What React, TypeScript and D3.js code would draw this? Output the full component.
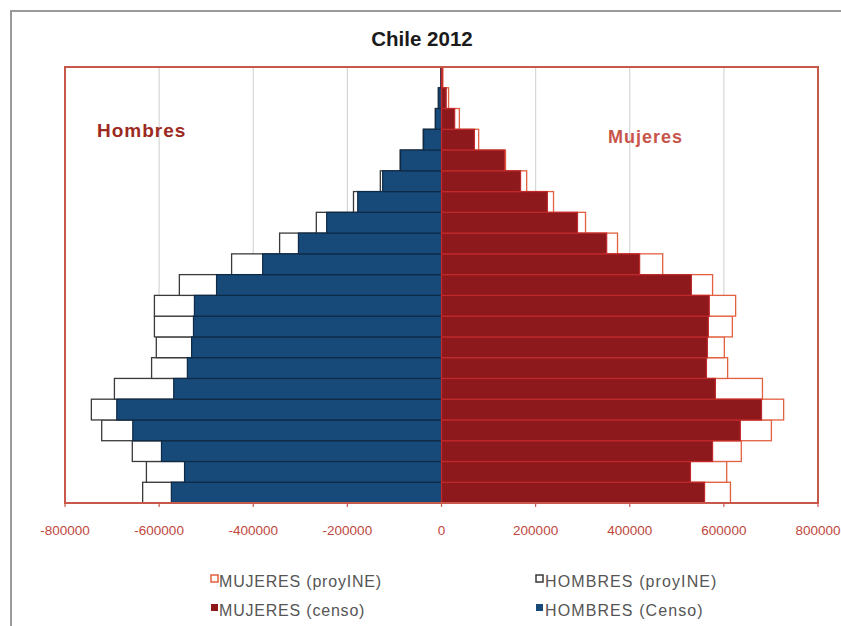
import React from "react";
import * as d3 from "d3";

const ageGroups = ["0-4","5-9","10-14","15-19","20-24","25-29","30-34","35-39","40-44","45-49","50-54","55-59","60-64","65-69","70-74","75-79","80-84","85-89","90-94","95-99","100+"];
const hombresCenso = [574000,546000,595000,656000,690000,569000,540000,531000,527000,525000,478000,380000,304000,244000,178000,125000,87000,38000,13000,6000,1000];
const hombresProy = [635000,627000,657000,722000,744000,695000,616000,606000,610000,610000,557000,446000,344000,266000,187000,130000,88000,39000,13000,7000,1000];
const mujeresCenso = [559000,529000,576000,635000,680000,582000,563000,565000,567000,569000,531000,421000,351000,289000,225000,168000,134000,70000,28000,10000,1500];
const mujeresProy = [614000,606000,637000,701000,727000,682000,608000,601000,618000,625000,576000,470000,374000,306000,238000,181000,136000,79000,38000,15000,3000];
const xTicks = [-800000,-600000,-400000,-200000,0,200000,400000,600000,800000];

const W = 841, H = 626;
const left = 65, right = 818, top = 67, bottom = 503;

export default function App() {
  const x = d3.scaleLinear().domain([-800000, 800000]).range([left, right]);
  const y = d3.scaleBand<string>().domain([...ageGroups].reverse()).range([top, bottom]).padding(0);
  const bw = y.bandwidth();
  const x0 = x(0);
  const font = "'Liberation Sans', Arial, sans-serif";
  return (
    <svg width={W} height={H} style={{ position: "absolute", left: 0, top: 0, background: "#fff" }}>
      <rect x={0} y={0} width={W} height={H} fill="#fff" />
      <rect x={11} y={11} width={W + 20} height={H + 20} fill="none" stroke="#9a9a9a" strokeWidth={2} />
      <text x={422} y={46} textAnchor="middle" fontFamily={font} fontWeight="bold" fontSize={20.5} fill="#1a1a1a">Chile 2012</text>
      {/* gridlines */}
      {xTicks.filter(t => t !== 0 && Math.abs(t) !== 800000).map(t => (
        <line key={"g" + t} x1={x(t)} x2={x(t)} y1={top} y2={bottom} stroke="#d6d6d6" strokeWidth={1.2} />
      ))}
      {/* zero axis line */}
      <line x1={x0} x2={x0} y1={top} y2={bottom} stroke="#6a1414" strokeWidth={2} />
      {/* projection outlines */}
      {ageGroups.map((a, i) => (
        <rect key={"hp" + a} x={x(-hombresProy[i])} y={y(a)!} width={x0 - x(-hombresProy[i])} height={bw} fill="#fff" stroke="#3a3a3a" strokeWidth={1.3} />
      ))}
      {ageGroups.map((a, i) => (
        <rect key={"mp" + a} x={x0} y={y(a)!} width={x(mujeresProy[i]) - x0} height={bw} fill="#fff" stroke="#e2603f" strokeWidth={1.3} />
      ))}
      {/* census bars */}
      {ageGroups.map((a, i) => (
        <rect key={"hc" + a} x={x(-hombresCenso[i])} y={y(a)!} width={x0 - x(-hombresCenso[i])} height={bw} fill="#184a79" stroke="#0e2a47" strokeWidth={1.2} />
      ))}
      {ageGroups.map((a, i) => (
        <rect key={"mc" + a} x={x0} y={y(a)!} width={x(mujeresCenso[i]) - x0} height={bw} fill="#8e191c" stroke="#c02a2c" strokeWidth={1.2} />
      ))}
      {/* frame */}
      <rect x={left} y={top} width={right - left} height={bottom - top} fill="none" stroke="#c8584a" strokeWidth={2} />
      {/* ticks */}
      {xTicks.map(t => (
        <g key={"t" + t}>
          <line x1={x(t)} x2={x(t)} y1={bottom} y2={bottom + 4} stroke="#c8584a" strokeWidth={1.2} />
          <text x={x(t)} y={535} textAnchor="middle" fontFamily={font} fontSize={13.5} fill="#c0473c">{t}</text>
        </g>
      ))}
      <text x={97} y={137} fontFamily={font} fontWeight="bold" fontSize={19} letterSpacing={1} fill="#9c2a1f">Hombres</text>
      <text x={608} y={143} fontFamily={font} fontWeight="bold" fontSize={18} letterSpacing={1} fill="#c8544a">Mujeres</text>
      {/* legend */}
      <rect x={211} y={575} width={7} height={7} fill="#fff" stroke="#e2603f" strokeWidth={1.5} />
      <text x={219} y={586.5} fontFamily={font} fontSize={16} letterSpacing={0.8} fill="#555">MUJERES (proyINE)</text>
      <rect x={211} y={604} width={7} height={7} fill="#8e191c" />
      <text x={219} y={615.5} fontFamily={font} fontSize={16} letterSpacing={0.8} fill="#555">MUJERES (censo)</text>
      <rect x={536} y={575} width={7} height={7} fill="#fff" stroke="#3a3a3a" strokeWidth={1.5} />
      <text x={545} y={586.5} fontFamily={font} fontSize={16} letterSpacing={1.1} fill="#555">HOMBRES (proyINE)</text>
      <rect x={536} y={604} width={7} height={7} fill="#184a79" />
      <text x={545} y={615.5} fontFamily={font} fontSize={16} letterSpacing={1.1} fill="#555">HOMBRES (Censo)</text>
    </svg>
  );
}
